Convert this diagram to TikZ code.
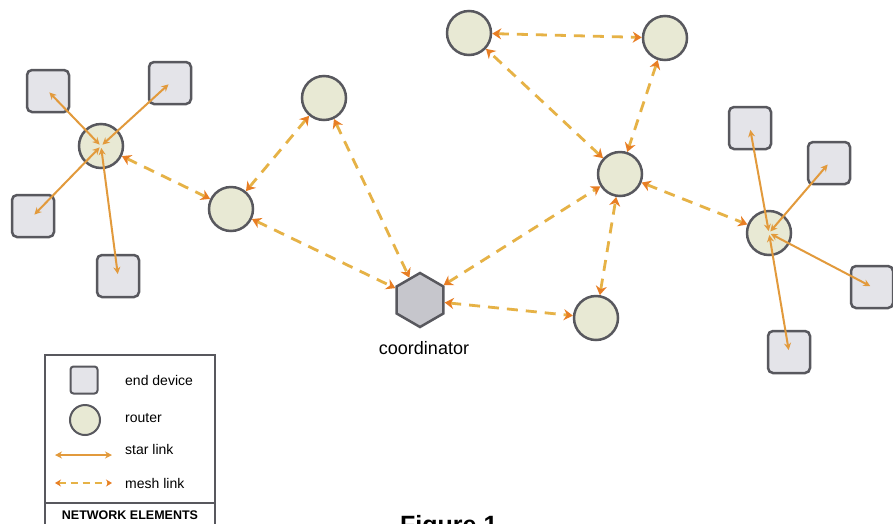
\documentclass[tikz,border=0pt]{standalone}
\usepackage{fontspec}
\setmainfont{Liberation Sans}
\usetikzlibrary{arrows.meta,shapes.geometric}
\definecolor{edgec}{RGB}{88,88,94}
\definecolor{routerc}{RGB}{232,233,212}
\definecolor{devc}{RGB}{228,228,233}
\definecolor{coordc}{RGB}{198,198,204}
\definecolor{starc}{RGB}{226,154,60}
\definecolor{meshc}{RGB}{230,178,70}
\definecolor{tipc}{RGB}{232,126,36}
\begin{document}
\begin{tikzpicture}[x=1pt,y=-1pt,
  router/.style={circle,draw=edgec,line width=2.5pt,fill=routerc,minimum size=44pt,inner sep=0pt},
  device/.style={rectangle,rounded corners=5pt,draw=edgec,line width=2.5pt,fill=devc,minimum size=42pt,inner sep=0pt},
  coordnode/.style={regular polygon,regular polygon sides=6,shape border rotate=30,draw=edgec,line width=2.5pt,fill=coordc,minimum size=54pt,inner sep=0pt},
  meshlink/.style={draw=meshc,line width=2.8pt,dash pattern=on 11pt off 8pt,
     {Stealth[length=9pt,width=11pt,color=tipc]}-{Stealth[length=9pt,width=11pt,color=tipc]}},
  starlink/.style={draw=starc,line width=2pt,
     {Stealth[length=7pt,width=7pt]}-{Stealth[length=7pt,width=7pt]},shorten <=2pt,shorten >=2pt},
  lbl/.style={anchor=west,inner sep=0pt,font=\fontsize{14}{16}\selectfont},
]
\clip (0,0) rectangle (893,523);
\fill[white] (0,0) rectangle (893,523);

% routers
\node[router] (R1) at (101,146) {};
\node[router] (R2) at (231,209) {};
\node[router] (R3) at (324,98) {};
\node[router] (R4) at (469,33) {};
\node[router] (R5) at (665,38) {};
\node[router] (R6) at (620,174) {};
\node[router] (R7) at (596,318) {};
\node[router] (R8) at (769,233) {};
\node[coordnode] (C) at (420,300) {};
\node[inner sep=0pt,font=\fontsize{18}{20}\selectfont] (Cl) at (424,348) {coordinator};

% devices
\node[device] (D1) at (48,91) {};
\node[device] (D2) at (170,83) {};
\node[device] (D3) at (33,216) {};
\node[device] (D4) at (118,276) {};
\node[device] (D5) at (750,128) {};
\node[device] (D6) at (829,163) {};
\node[device] (D7) at (872,287) {};
\node[device] (D8) at (789,352) {};

% star links
\foreach \d in {D1,D2,D3,D4} \draw[starlink] (\d.center) -- (R1.center);
\foreach \d in {D5,D6,D7,D8} \draw[starlink] (\d.center) -- (R8.center);

% mesh links
\draw[meshlink] (R1) -- (R2);
\draw[meshlink] (R2) -- (R3);
\draw[meshlink] (R3) -- (C);
\draw[meshlink] (R2) -- (C);
\draw[meshlink] (C) -- (R6);
\draw[meshlink] (C) -- (R7);
\draw[meshlink] (R7) -- (R6);
\draw[meshlink] (R6) -- (R4);
\draw[meshlink] (R4) -- (R5);
\draw[meshlink] (R5) -- (R6);
\draw[meshlink] (R6) -- (R8);

% legend
\draw[edgec,line width=2pt] (45,355) rectangle (215,560);
\draw[edgec,line width=2pt] (45,503) -- (215,503);
\node[device,minimum size=27pt,line width=2pt,rounded corners=3pt] (LD) at (84,380) {};
\node[router,minimum size=30pt,line width=2pt] (LR) at (85,420) {};
\coordinate (LS1) at (55,455); \coordinate (LS2) at (112,455);
\coordinate (LM1) at (55,483); \coordinate (LM2) at (112,483);
\draw[starlink,shorten <=0pt,shorten >=0pt] (LS1) -- (LS2);
\draw[meshlink,line width=2pt,dash pattern=on 7pt off 5pt,{Stealth[length=6pt,width=7pt,color=tipc]}-{Stealth[length=6pt,width=7pt,color=tipc]}] (LM1) -- (LM2);
\node[lbl] (T1) at (125,380) {end device};
\node[lbl] (T2) at (125,418) {router};
\node[lbl] (T3) at (125,449) {star link};
\node[lbl] (T4) at (125,483) {mesh link};
\node[inner sep=0pt,font=\bfseries\fontsize{12.5}{14}\selectfont] (LT) at (130,515) {NETWORK ELEMENTS};

\node[anchor=base west,inner sep=0pt,font=\bfseries\fontsize{25}{30}\selectfont] (FIG) at (400,533) {Figure 1};
\end{tikzpicture}
\end{document}
